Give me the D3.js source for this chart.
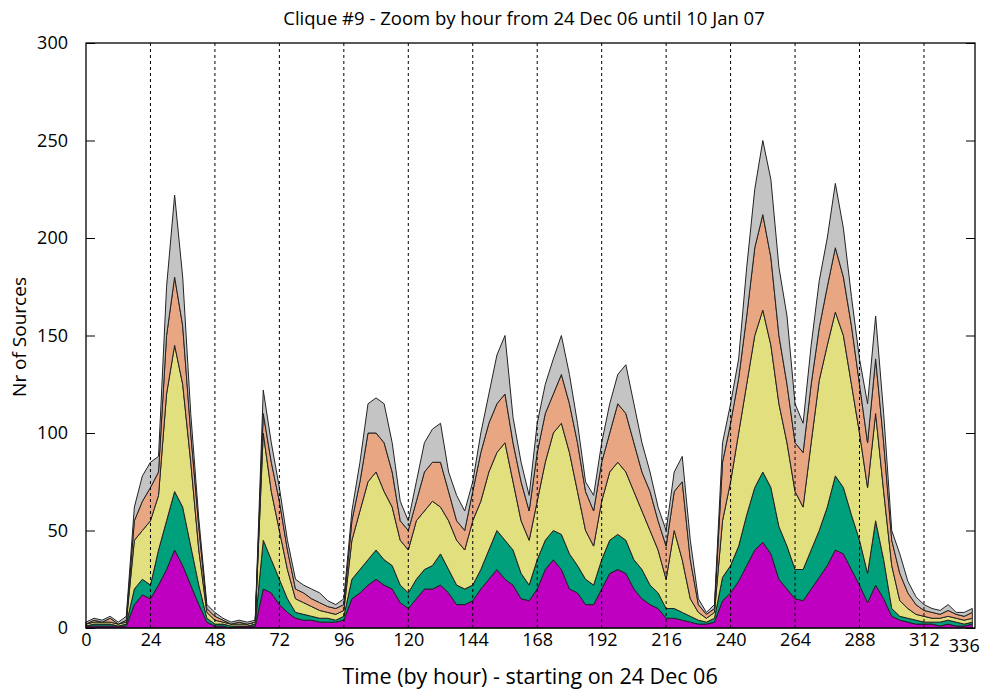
<!DOCTYPE html>
<html>
<head>
<meta charset="utf-8">
<script src="https://cdn.jsdelivr.net/npm/d3@7"></script>
<style>
  body { margin: 0; background: #fff; }
  text { font-family: "Open Sans", "Liberation Sans", sans-serif; fill: #000; }
</style>
</head>
<body>
<svg id="chart" width="995" height="692"></svg>
<script>
// hours, every 3h from 0 to 330
const hours = d3.range(0, 331, 3);

const magenta = [1,1,1,1,1,1,12,17,15,22,30,40,32,22,12,3,1,1,0,1,1,1,20,18,12,8,5,4,4,3,3,3,4,15,18,22,25,22,20,13,10,15,20,20,22,18,12,12,14,20,25,30,25,22,15,14,20,30,35,30,20,18,12,12,20,28,30,28,20,15,12,10,5,5,4,3,2,2,3,14,18,24,32,40,44,38,25,20,15,14,20,26,32,40,38,30,22,13,22,15,6,4,3,2,2,2,1,2,1,1,2];
const teal = [0,1,1,1,0,1,8,8,7,18,25,30,30,20,10,2,1,1,1,0,0,1,25,17,13,7,3,3,2,2,2,1,2,10,12,13,15,13,12,9,8,10,10,12,16,12,10,8,8,10,15,20,20,18,13,8,15,15,15,18,18,14,13,10,15,17,18,17,15,15,10,8,5,5,4,3,2,1,2,12,14,18,26,32,36,34,27,22,15,16,20,24,30,38,34,28,23,15,33,20,4,2,2,2,1,1,2,2,2,1,1];
const yellow = [1,1,1,1,1,1,25,25,33,28,65,75,63,43,18,3,2,1,1,1,1,1,55,35,25,15,7,6,5,4,3,3,3,20,30,40,40,35,30,23,22,30,30,33,24,25,23,20,33,35,40,40,50,35,27,23,30,40,50,57,52,38,25,20,30,35,37,35,35,30,28,22,15,40,27,9,4,2,3,29,43,58,67,78,83,73,63,53,40,32,55,77,83,84,78,67,55,44,55,35,22,8,5,3,3,2,2,2,2,2,2];
const salmon = [0,1,0,2,0,1,10,15,17,12,30,35,30,15,12,2,2,1,0,1,0,0,10,15,15,10,5,5,4,4,3,3,3,10,15,25,20,25,18,10,10,10,20,20,23,15,10,10,15,25,25,25,25,20,20,15,25,25,20,25,25,25,20,18,20,20,30,30,25,20,20,15,17,20,40,20,4,2,2,30,30,28,35,45,49,45,35,30,25,28,30,27,30,33,30,30,25,23,28,25,13,14,8,5,3,3,2,3,2,2,3];
const gray = [1,1,1,1,1,2,7,13,13,8,25,42,25,10,4,2,2,1,1,1,1,1,12,10,7,5,5,4,5,5,3,2,3,5,10,15,18,20,15,10,5,10,15,17,20,10,13,10,5,10,15,25,30,13,10,8,15,15,18,20,15,10,5,8,10,15,15,25,20,15,10,7,8,10,13,10,3,1,2,10,10,10,25,30,38,40,35,35,20,15,20,24,25,33,25,15,13,20,22,15,5,10,6,4,3,2,2,3,1,2,2];

const seriesKeys = ["magenta", "teal", "yellow", "salmon", "gray"];
const seriesData = { magenta, teal, yellow, salmon, gray };
const colors = ["#c000c0", "#00a07c", "#e2e07e", "#e8a682", "#c4c4c4"];

const yTicks = [0, 50, 100, 150, 200, 250, 300];
const xTicks = [0, 24, 48, 72, 96, 120, 144, 168, 192, 216, 240, 264, 288, 312];
const gridHours = [24, 48, 72, 96, 120, 144, 168, 192, 216, 240, 264, 288, 312];

const rows = hours.map((h, i) => {
  const r = { hour: h };
  seriesKeys.forEach(k => r[k] = seriesData[k][i] || 0);
  return r;
});

const plotL = 86, plotR = 975, plotT = 43, plotB = 628;
const x = d3.scaleLinear().domain([0, 331]).range([plotL, plotR]);
const y = d3.scaleLinear().domain([0, 300]).range([plotB, plotT]);

const svg = d3.select("#chart");

const stack = d3.stack().keys(seriesKeys)(rows);
const area = d3.area()
  .x(d => x(d.data.hour))
  .y0(d => y(d[0]))
  .y1(d => y(d[1]));

svg.append("g").selectAll("path")
  .data(stack)
  .join("path")
  .attr("d", area)
  .attr("fill", (d, i) => colors[i])
  .attr("stroke", "#222")
  .attr("stroke-width", 1)
  .attr("stroke-linejoin", "round");

// dotted day lines
svg.append("g").selectAll("line")
  .data(gridHours)
  .join("line")
  .attr("x1", d => x(d)).attr("x2", d => x(d))
  .attr("y1", plotT).attr("y2", plotB)
  .attr("stroke", "#000")
  .attr("stroke-width", 1)
  .attr("stroke-dasharray", "3,3");

// frame
svg.append("rect")
  .attr("x", plotL).attr("y", plotT)
  .attr("width", plotR - plotL).attr("height", plotB - plotT)
  .attr("fill", "none").attr("stroke", "#000").attr("stroke-width", 1.3);

// y axis (ticks inward on both sides)
const yAxis = svg.append("g").attr("transform", `translate(${plotL},0)`)
  .call(d3.axisLeft(y).tickValues(yTicks).tickSize(-9).tickPadding(18));
const yAxisR = svg.append("g").attr("transform", `translate(${plotR},0)`)
  .call(d3.axisRight(y).tickValues(yTicks).tickSize(-9).tickFormat(""));

const xAxis = svg.append("g").attr("transform", `translate(0,${plotB})`)
  .call(d3.axisBottom(x).tickValues(xTicks).tickSize(0).tickPadding(5));
svg.append("text").attr("x", x(327)).attr("y", plotB + 24)
  .attr("text-anchor", "middle").attr("font-size", 18).text("336");

[yAxis, yAxisR, xAxis].forEach(g => {
  g.select(".domain").remove();
  g.selectAll("text").attr("font-size", 18).attr("font-family", "Open Sans, sans-serif").attr("fill", "#000");
  g.selectAll("line").attr("stroke", "#000");
});

svg.append("text").attr("x", 524).attr("y", 25).attr("text-anchor", "middle")
  .attr("font-size", 18.5).text("Clique #9 - Zoom by hour from 24 Dec 06 until 10 Jan 07");
svg.append("text").attr("x", 530).attr("y", 684).attr("text-anchor", "middle")
  .attr("font-size", 21.5).text("Time (by hour) - starting on 24 Dec 06");
svg.append("text").attr("transform", "translate(26,337) rotate(-90)")
  .attr("text-anchor", "middle").attr("font-size", 19).text("Nr of Sources");
</script>
</body>
</html>
